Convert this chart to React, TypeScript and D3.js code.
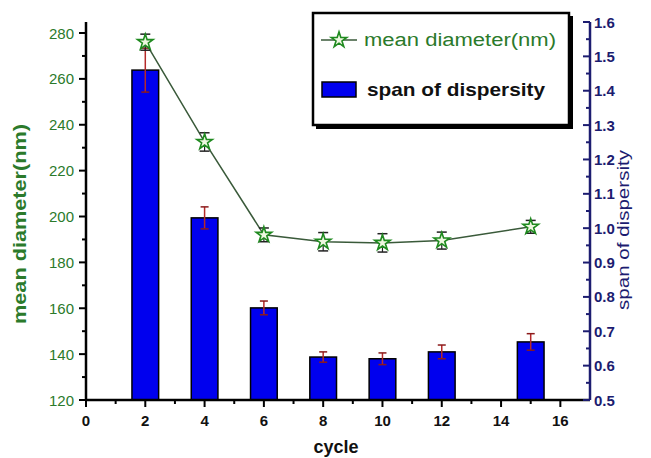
import React, { useEffect, useRef } from 'react';
import * as d3 from 'd3';

const cycles = [2, 4, 6, 8, 10, 12, 15];
const meanDiameter = [276, 232.5, 192, 189, 188.5, 189.5, 195.5];
const diameterErr = [3.5, 4, 3, 4, 4, 3.7, 2.8];
const span = [1.46, 1.03, 0.768, 0.625, 0.62, 0.64, 0.669];
const spanErr = [0.064, 0.032, 0.02, 0.015, 0.017, 0.02, 0.024];

const xTicks = [0, 2, 4, 6, 8, 10, 12, 14, 16];
const leftTicks = [120, 140, 160, 180, 200, 220, 240, 260, 280];
const rightTicks = [0.5, 0.6, 0.7, 0.8, 0.9, 1.0, 1.1, 1.2, 1.3, 1.4, 1.5, 1.6];

const W = 651;
const H = 458;
const FONT = "'Liberation Sans', Arial, sans-serif";
const GREEN = '#2b7a2b';
const NAVY = '#1c1c70';

const App = () => {
  const ref = useRef<SVGSVGElement>(null);

  useEffect(() => {
    const svg = d3.select(ref.current);
    svg.selectAll('*').remove();

    const left = 86, right = 590, top = 22, bottom = 400;

    const x = d3.scaleLinear().domain([0, 17]).range([left, right]);
    const yL = d3.scaleLinear().domain([120, 284.8]).range([bottom, top]);
    const yR = d3.scaleLinear().domain([0.5, 1.6]).range([bottom, top]);

    // bars
    const barW = x(0.9) - x(0);
    const bars = svg.append('g');
    cycles.forEach((c, i) => {
      const xc = x(c);
      bars.append('rect')
        .attr('x', xc - barW / 2)
        .attr('y', yR(span[i]))
        .attr('width', barW)
        .attr('height', bottom - yR(span[i]))
        .attr('fill', '#0000ee')
        .attr('stroke', '#000')
        .attr('stroke-width', 1.5);
      const t = yR(span[i] + spanErr[i]);
      const b = yR(span[i] - spanErr[i]);
      bars.append('line')
        .attr('x1', xc).attr('x2', xc).attr('y1', t).attr('y2', b)
        .attr('stroke', '#b52a2a').attr('stroke-width', 1.5);
      [t, b].forEach((yy) => {
        bars.append('line')
          .attr('x1', xc - 4).attr('x2', xc + 4).attr('y1', yy).attr('y2', yy)
          .attr('stroke', '#8b1a1a').attr('stroke-width', 1.5);
      });
    });

    // bottom axis
    const ax = svg.append('g').attr('font-family', FONT);
    ax.append('line')
      .attr('x1', left).attr('x2', right).attr('y1', bottom).attr('y2', bottom)
      .attr('stroke', '#000').attr('stroke-width', 2.5);
    d3.range(0, 17).forEach((v) => {
      ax.append('line')
        .attr('x1', x(v)).attr('x2', x(v)).attr('y1', bottom).attr('y2', bottom + (v % 2 === 0 ? 7 : 4))
        .attr('stroke', '#000').attr('stroke-width', 2);
    });
    xTicks.forEach((v) => {
      ax.append('text')
        .attr('x', x(v)).attr('y', bottom + 26)
        .attr('text-anchor', 'middle')
        .attr('font-size', 15).attr('font-weight', 'bold')
        .attr('fill', '#111')
        .text(v);
    });
    ax.append('text')
      .attr('x', 336).attr('y', 453)
      .attr('text-anchor', 'middle')
      .attr('font-size', 18).attr('font-weight', 'bold')
      .attr('fill', '#111')
      .text('cycle');

    // left axis
    const al = svg.append('g').attr('font-family', FONT);
    al.append('line')
      .attr('x1', left).attr('x2', left).attr('y1', top).attr('y2', bottom)
      .attr('stroke', '#000').attr('stroke-width', 2.5);
    d3.range(120, 290, 10).forEach((v) => {
      al.append('line')
        .attr('x1', left).attr('x2', left - (v % 20 === 0 ? 7 : 4)).attr('y1', yL(v)).attr('y2', yL(v))
        .attr('stroke', '#000').attr('stroke-width', 2);
    });
    leftTicks.forEach((v) => {
      al.append('text')
        .attr('x', left - 12).attr('y', yL(v) + 5.5)
        .attr('text-anchor', 'end')
        .attr('font-size', 15)
        .attr('fill', GREEN)
        .text(v);
    });
    al.append('text')
      .attr('transform', `translate(26,224) rotate(-90)`)
      .attr('text-anchor', 'middle')
      .attr('font-size', 19).attr('font-weight', 'bold')
      .attr('textLength', 200).attr('lengthAdjust', 'spacingAndGlyphs')
      .attr('fill', GREEN)
      .text('mean diameter(nm)');

    // right axis
    const ar = svg.append('g').attr('font-family', FONT);
    ar.append('line')
      .attr('x1', right).attr('x2', right).attr('y1', top).attr('y2', bottom)
      .attr('stroke', NAVY).attr('stroke-width', 2.5);
    d3.range(0, 23).forEach((k) => {
      const v = 0.5 + k * 0.05;
      ar.append('line')
        .attr('x1', right).attr('x2', right - (k % 2 === 0 ? 7 : 4)).attr('y1', yR(v)).attr('y2', yR(v))
        .attr('stroke', NAVY).attr('stroke-width', 2);
    });
    rightTicks.forEach((v) => {
      ar.append('text')
        .attr('x', right + 4).attr('y', yR(v) + 5.5)
        .attr('font-size', 15).attr('font-weight', 'bold')
        .attr('fill', NAVY)
        .text(v.toFixed(1));
    });
    ar.append('text')
      .attr('transform', `translate(629,230) rotate(-90)`)
      .attr('text-anchor', 'middle')
      .attr('font-size', 16)
      .attr('textLength', 160).attr('lengthAdjust', 'spacingAndGlyphs')
      .attr('fill', NAVY)
      .text('span of dispersity');

    // line series
    const line = d3.line<number>()
      .x((d, i) => x(cycles[i]))
      .y((d) => yL(d));
    svg.append('path')
      .datum(meanDiameter)
      .attr('d', line)
      .attr('fill', 'none')
      .attr('stroke', '#3a5a3a')
      .attr('stroke-width', 1.5);

    const star = d3.symbol().type(d3.symbolStar).size(75);
    const pts = svg.append('g');
    cycles.forEach((c, i) => {
      const xc = x(c);
      const t = yL(meanDiameter[i] + diameterErr[i]);
      const b = yL(meanDiameter[i] - diameterErr[i]);
      pts.append('line')
        .attr('x1', xc).attr('x2', xc).attr('y1', t).attr('y2', b)
        .attr('stroke', '#222').attr('stroke-width', 1.2);
      [t, b].forEach((yy) => {
        pts.append('line')
          .attr('x1', xc - 5).attr('x2', xc + 5).attr('y1', yy).attr('y2', yy)
          .attr('stroke', '#222').attr('stroke-width', 1.5);
      });
      pts.append('path')
        .attr('d', star)
        .attr('transform', `translate(${xc},${yL(meanDiameter[i])})`)
        .attr('fill', '#eef7e0')
        .attr('stroke', '#1f8a1f')
        .attr('stroke-width', 1.6);
    });

    // legend
    const lg = svg.append('g').attr('font-family', FONT);
    lg.append('rect')
      .attr('x', 316).attr('y', 16).attr('width', 257).attr('height', 113)
      .attr('fill', '#000');
    lg.append('rect')
      .attr('x', 313).attr('y', 13).attr('width', 256).attr('height', 112)
      .attr('fill', '#fff').attr('stroke', '#000').attr('stroke-width', 2.5);
    lg.append('line')
      .attr('x1', 321).attr('x2', 357).attr('y1', 40).attr('y2', 40)
      .attr('stroke', '#3a5a3a').attr('stroke-width', 1.5);
    lg.append('path')
      .attr('d', star)
      .attr('transform', 'translate(339,40)')
      .attr('fill', '#eef7e0')
      .attr('stroke', '#1f8a1f')
      .attr('stroke-width', 1.6);
    lg.append('text')
      .attr('x', 364).attr('y', 46)
      .attr('font-size', 18)
      .attr('textLength', 192).attr('lengthAdjust', 'spacingAndGlyphs')
      .attr('fill', GREEN)
      .text('mean diameter(nm)');
    lg.append('rect')
      .attr('x', 322).attr('y', 82).attr('width', 34).attr('height', 15)
      .attr('fill', '#0000ee').attr('stroke', '#000').attr('stroke-width', 1.5);
    lg.append('text')
      .attr('x', 367).attr('y', 96)
      .attr('font-size', 19).attr('font-weight', 'bold')
      .attr('textLength', 178).attr('lengthAdjust', 'spacingAndGlyphs')
      .attr('fill', '#111')
      .text('span of dispersity');
  }, []);

  return (
    <svg
      ref={ref}
      width={W}
      height={H}
      style={{ position: 'absolute', left: 0, top: 0, background: '#fff' }}
    />
  );
};

export default App;
